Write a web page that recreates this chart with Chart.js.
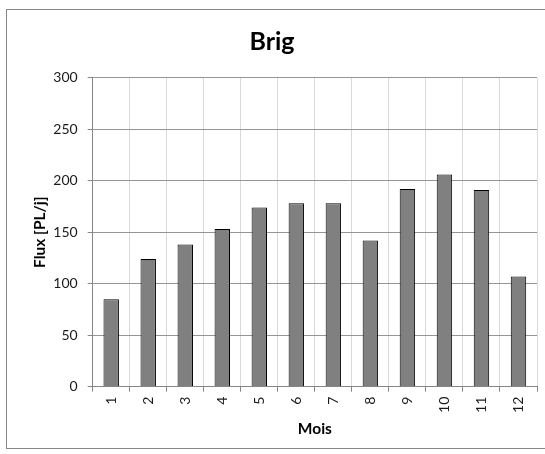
<!DOCTYPE html>
<html>
<head>
<meta charset="utf-8">
<script src="https://cdn.jsdelivr.net/npm/chart.js@4"></script>
<style>
  html, body { margin: 0; padding: 0; background: #fff; overflow: hidden; width: 545px; height: 454px; }
  #box { position: absolute; left: 6px; top: 9px; width: 548px; height: 438px; border: 1px solid #868686; background: #fff; }
  #c { display: block; }
</style>
</head>
<body>
<div id="box"><canvas id="c" width="548" height="438"></canvas></div>
<script>
const categories = ['1','2','3','4','5','6','7','8','9','10','11','12'];
const fluxValues = [85, 124, 138, 153, 174, 178, 178, 142, 192, 206, 191, 107];
const yTicks = [0, 50, 100, 150, 200, 250, 300];
const chartTitle = 'Brig';
const xTitle = 'Mois';
const yTitle = 'Flux [PL/j]';

const FONT = 'Lato, Carlito, "Open Sans", sans-serif';

new Chart(document.getElementById('c'), {
  type: 'bar',
  data: {
    labels: categories,
    datasets: [{
      data: fluxValues,
      backgroundColor: '#808080',
      borderColor: '#000000',
      borderWidth: 1,
      barPercentage: 0.4167,
      categoryPercentage: 1.0
    }]
  },
  options: {
    responsive: false,
    devicePixelRatio: 1,
    animation: false,
    layout: { padding: { left: 0, right: 18, top: 0, bottom: 0 } },
    plugins: {
      legend: { display: false },
      tooltip: { enabled: false },
      title: {
        display: true,
        text: chartTitle,
        color: '#000',
        font: { family: FONT, size: 25, weight: 'bold', lineHeight: 1.2 },
        padding: { top: 17, bottom: 20.7 }
      }
    },
    scales: {
      x: {
        grid: {
          display: true,
          color: '#d9d9d9',
          lineWidth: 1,
          drawTicks: true,
          tickLength: 5,
          tickColor: '#868686',
          offset: true
        },
        border: { display: true, color: '#868686', width: 1 },
        ticks: {
          color: '#1a1a1a',
          font: { family: FONT, size: 14 },
          minRotation: 90,
          maxRotation: 90,
          padding: 5,
          autoSkip: false
        },
        title: {
          display: true,
          text: xTitle,
          color: '#000',
          font: { family: FONT, size: 15.5, weight: 'bold', lineHeight: 1.2 },
          padding: { top: 0, bottom: 9.7 }
        },
        afterFit: (s) => { s.height = 61.3; }
      },
      y: {
        min: 0,
        max: 300,
        afterBuildTicks: (s) => { s.ticks = yTicks.map(v => ({ value: v })); },
        grid: {
          color: '#969696',
          lineWidth: 1,
          drawTicks: true,
          tickLength: 5,
          tickColor: '#868686'
        },
        border: { display: true, color: '#868686', width: 1 },
        ticks: {
          color: '#1a1a1a',
          font: { family: FONT, size: 14 },
          padding: 10
        },
        title: {
          display: true,
          text: yTitle,
          color: '#000',
          font: { family: FONT, size: 15.5, weight: 'bold', lineHeight: 1.2 },
          padding: { top: 23.2, bottom: 0 }
        },
        afterFit: (s) => { s.width = 85.7; }
      }
    }
  }
});
</script>
</body>
</html>
